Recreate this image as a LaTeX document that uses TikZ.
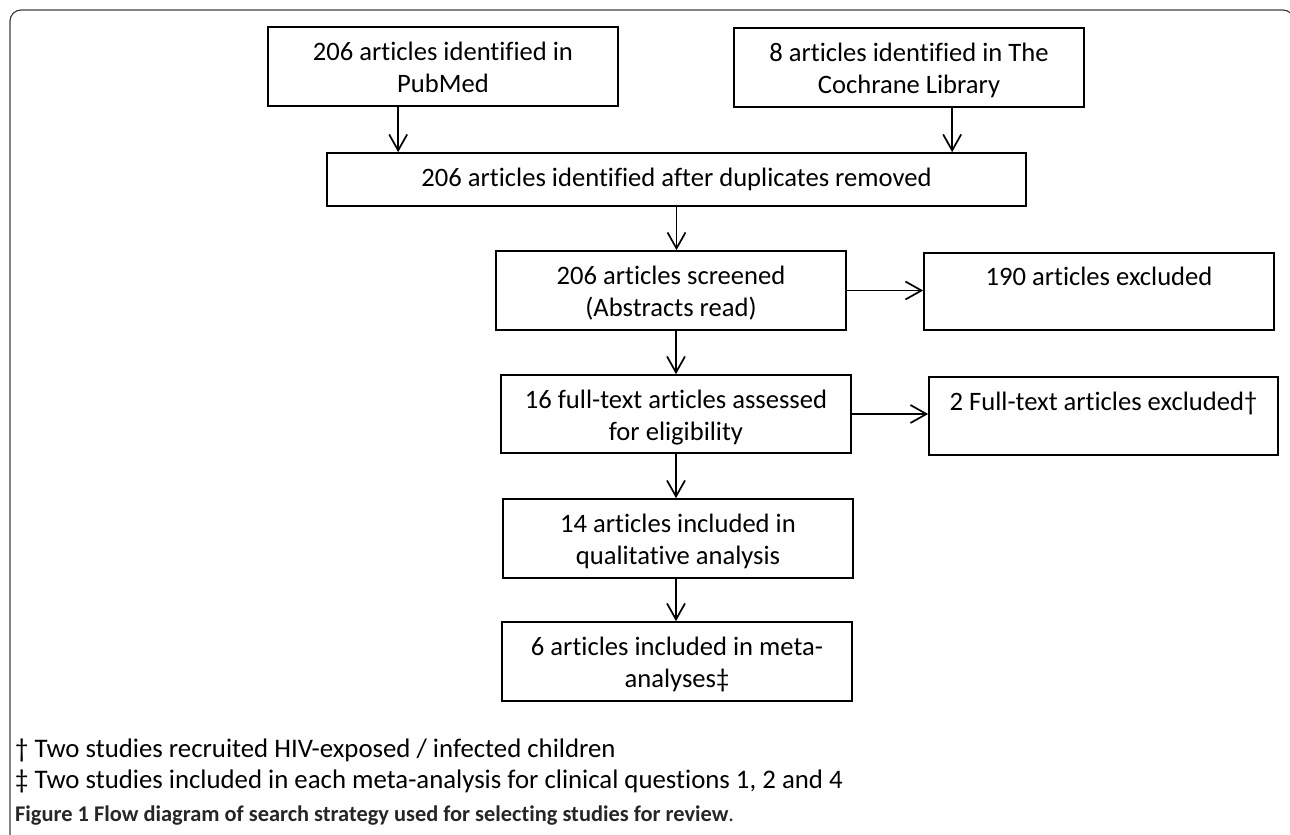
\documentclass[tikz,border=0pt]{standalone}
\usepackage{fontspec}
\setmainfont{Carlito}[Ligatures=NoCommon]
\usetikzlibrary{arrows.meta}
\newcommand\topS{\rule{0pt}{27pt}}
\newcommand\botS{\rule[-7pt]{0pt}{7pt}}
\begin{document}
\begin{tikzpicture}[x=1pt,y=-1pt,
  box/.style={draw=black, line width=1.7pt, minimum width=350pt, minimum height=79pt,
    inner sep=0pt, align=center, font=\fontsize{26.6}{32}\selectfont},
  arr/.style={line width=1.7pt, -{Straight Barb[length=16pt,width=18pt]}},
  foot/.style={anchor=base west, inner sep=0pt, font=\fontsize{26.8}{32}\selectfont},
  capt/.style={anchor=base west, inner sep=0pt, text=black!85, font=\fontsize{22.4}{26}\selectfont},
  framec/.style={draw=black!75, line width=1.2pt, rounded corners=11pt}]
\useasboundingbox (0,0) rectangle (1290,835);
\begin{scope}
\clip (0,0) rectangle (1290,835);
\draw[framec] (10,860) -- (10,10) -- (1294,10) -- (1294,860);
\end{scope}

\node[box] (A) at (443,66.5) {\topS 206 articles identified in\\PubMed\botS};
\node[box] (B) at (909,67.5) {\topS 8 articles identified in The\\Cochrane Library\botS};
\node[box, minimum width=699pt, minimum height=53pt] (C) at (676.5,179.5) {206 articles identified after duplicates removed};
\node[box] (D) at (671,290.5) {\topS 206 articles screened\\(Abstracts read)\botS};
\node[box, minimum height=77pt] (X1) at (1099,291.5) {\topS 190 articles excluded\\\botS};
\node[box, minimum height=78pt] (E) at (676,414) {\topS 16 full-text articles assessed\\for eligibility\botS};
\node[box, minimum width=349pt, minimum height=78pt] (X2) at (1103.5,416) {\topS 2 Full-text articles excluded\textdagger\\\botS};
\node[box] (F) at (678,538.5) {\topS 14 articles included in\\qualitative analysis\botS};
\node[box] (G) at (677,661.5) {\topS 6 articles included in meta-\\analyses\textdaggerdbl\botS};

\draw[arr] ([xshift=131pt]A.south west) -- ([xshift=131pt]A.south west |- C.north);
\draw[arr] ([xshift=219pt]B.south west) -- ([xshift=219pt]B.south west |- C.north);
\draw[arr] (C.south) -- (C.south |- D.north);
\draw[arr] (E.north |- D.south) -- (E.north);
\draw[arr] (E.south) -- (E.south |- F.north);
\draw[arr] (E.south |- F.south) -- (E.south |- G.north);
\draw[arr] (D.east) -- (D.east -| X1.west);
\draw[arr] (E.east) -- (E.east -| X2.west);

\node[foot] (n1) at (15,757) {\textdagger\ Two studies recruited HIV-exposed / infected children};
\node[foot] (n2) at (15,788) {\textdaggerdbl\ Two studies included in each meta-analysis for clinical questions 1, 2 and 4};
\node[capt] (cap) at (15,821) {\textbf{Figure 1 Flow diagram of search strategy used for selecting studies for review}.};
\end{tikzpicture}
\end{document}
